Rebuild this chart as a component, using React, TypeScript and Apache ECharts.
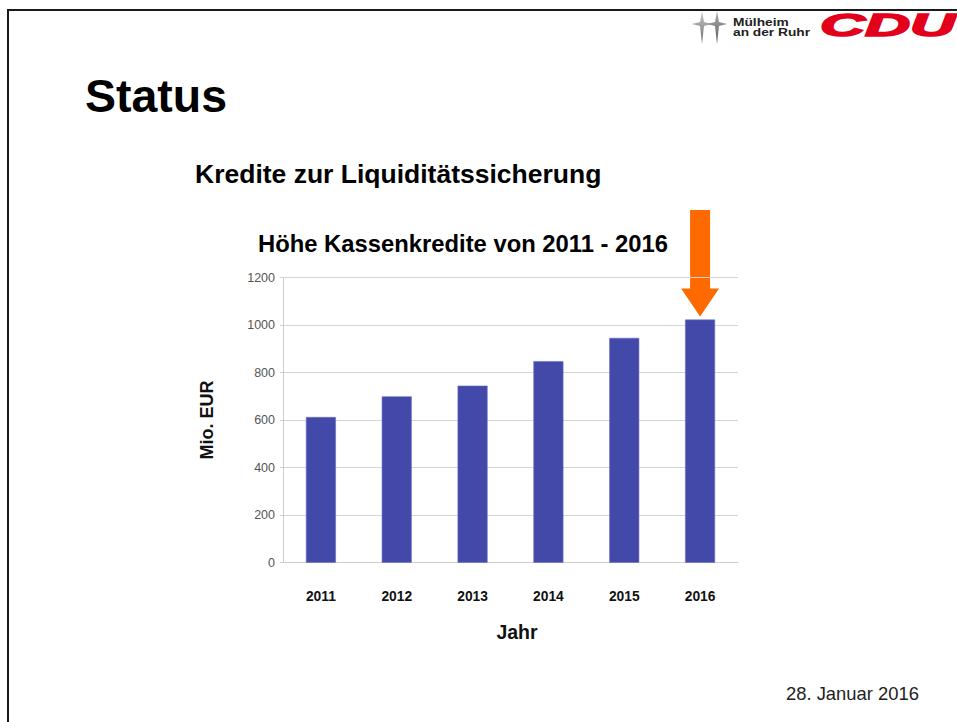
import React, { useEffect, useRef } from "react";
import * as echarts from "echarts";

const categories = ["2011", "2012", "2013", "2014", "2015", "2016"];
const values = [613, 700, 745, 848, 946, 1023];
const yTicks = { min: 0, max: 1200, interval: 200 };
const highlightYear = "2016";

const FONT = "'Liberation Sans', Arial, Helvetica, sans-serif";

export default function App() {
  const ref = useRef<HTMLDivElement>(null);
  useEffect(() => {
    if (!ref.current) return;
    const chart = echarts.init(ref.current, null, { renderer: "svg" });
    chart.setOption({
      animation: false,
      backgroundColor: "#ffffff",
      textStyle: { fontFamily: FONT },
      grid: { left: 283, right: 219, top: 277.5, bottom: 159.3, containLabel: false },
      xAxis: {
        type: "category",
        data: categories,
        name: "Jahr",
        nameLocation: "middle",
        nameGap: 59,
        nameTextStyle: { fontFamily: FONT, fontSize: 19.5, fontWeight: "bold", color: "#111", padding: [0, 0, 0, 13] },
        axisLine: { show: true, lineStyle: { color: "#cfcfcf", width: 1 } },
        axisTick: { show: false },
        axisLabel: { margin: 27, fontFamily: FONT, fontSize: 13.8, fontWeight: "bold", color: "#111" },
      },
      yAxis: {
        type: "value",
        min: yTicks.min,
        max: yTicks.max,
        interval: yTicks.interval,
        name: "Mio. EUR",
        nameLocation: "middle",
        nameRotate: 90,
        nameGap: 67,
        nameTextStyle: { fontFamily: FONT, fontSize: 18, fontWeight: "bold", color: "#111" },
        axisLine: { show: true, lineStyle: { color: "#cfcfcf", width: 1 } },
        axisTick: { show: true, length: 3, lineStyle: { color: "#cfcfcf" } },
        splitLine: { show: true, lineStyle: { color: "#d4d4d4", width: 1 } },
        axisLabel: {
          margin: 8,
          fontFamily: FONT,
          fontSize: 12.5,
          color: "#555",
          formatter: (v: number) => String(v),
        },
      },
      series: [
        {
          type: "bar",
          data: values,
          barWidth: 30,
          itemStyle: { color: "#4349a9", borderColor: "#6a70c4", borderWidth: 0.6 },
        },
      ],
      graphic: [
        // slide border
        { type: "rect", shape: { x: 7, y: 9, width: 1000, height: 2 }, style: { fill: "#1a1a1a" } },
        { type: "rect", shape: { x: 7, y: 9, width: 2, height: 720 }, style: { fill: "#1a1a1a" } },
        // titles
        {
          type: "text", x: 85, y: 96,
          style: { text: "Status", font: `bold 46.5px ${FONT}`, fill: "#000", verticalAlign: "middle", align: "left" },
        },
        {
          type: "text", x: 195, y: 173.5,
          style: { text: "Kredite zur Liquiditätssicherung", font: `bold 26.5px ${FONT}`, fill: "#000", verticalAlign: "middle", align: "left" },
        },
        {
          type: "text", x: 258, y: 243.5,
          style: { text: "Höhe Kassenkredite von 2011 - 2016", font: `bold 23.8px ${FONT}`, fill: "#000", verticalAlign: "middle", align: "left" },
        },
        {
          type: "text", x: 786, y: 693,
          style: { text: "28. Januar 2016", font: `18.4px ${FONT}`, fill: "#222", verticalAlign: "middle", align: "left" },
        },
        // logo: sparkles
        {
          type: "polygon",
          shape: { points: [[702, 11], [704, 22], [712, 24], [704, 26], [702, 44], [700, 26], [692, 24], [700, 22]] },
          style: {
            fill: new echarts.graphic.LinearGradient(0, 0, 0, 1, [
              { offset: 0, color: "#c8c8c8" },
              { offset: 1, color: "#6e6e6e" },
            ]),
          },
        },
        {
          type: "polygon",
          shape: { points: [[717, 11], [719, 22], [727, 24], [719, 26], [717, 44], [715, 26], [707, 24], [715, 22]] },
          style: {
            fill: new echarts.graphic.LinearGradient(0, 0, 0, 1, [
              { offset: 0, color: "#b0b0b0" },
              { offset: 1, color: "#5a5a5a" },
            ]),
          },
        },
        {
          type: "text", x: 733, y: 22.5, scaleX: 1.25,
          style: { text: "Mülheim", font: `bold 11px ${FONT}`, fill: "#222", verticalAlign: "middle", align: "left" },
        },
        {
          type: "text", x: 733, y: 32, scaleX: 1.25,
          style: { text: "an der Ruhr", font: `bold 11px ${FONT}`, fill: "#222", verticalAlign: "middle", align: "left" },
        },
        {
          type: "text", x: 820, y: 25, scaleX: 1.95,
          style: {
            text: "CDU",
            font: `italic bold 32px ${FONT}`,
            fill: "#e2001a",
            stroke: "#e2001a",
            lineWidth: 1.6,
            verticalAlign: "middle",
            align: "left",
          },
        },
      ],
    });

    const idx = categories.indexOf(highlightYear);
    const cx = chart.convertToPixel({ xAxisIndex: 0 }, idx) as number;
    const top = chart.convertToPixel({ yAxisIndex: 0 }, values[idx]) as number;
    const tipY = top - 3;
    chart.setOption({
      graphic: [
        {
          type: "polygon",
          id: "arrow",
          shape: {
            points: [
              [cx - 10, 210], [cx + 10, 210], [cx + 10, tipY - 28], [cx + 19, tipY - 28],
              [cx, tipY], [cx - 19, tipY - 28], [cx - 10, tipY - 28],
            ],
          },
          style: { fill: "#ff6a00" },
        },
      ],
    });
    return () => chart.dispose();
  }, []);
  return <div ref={ref} style={{ position: "fixed", left: 0, top: 0, width: 957, height: 722 }} />;
}
